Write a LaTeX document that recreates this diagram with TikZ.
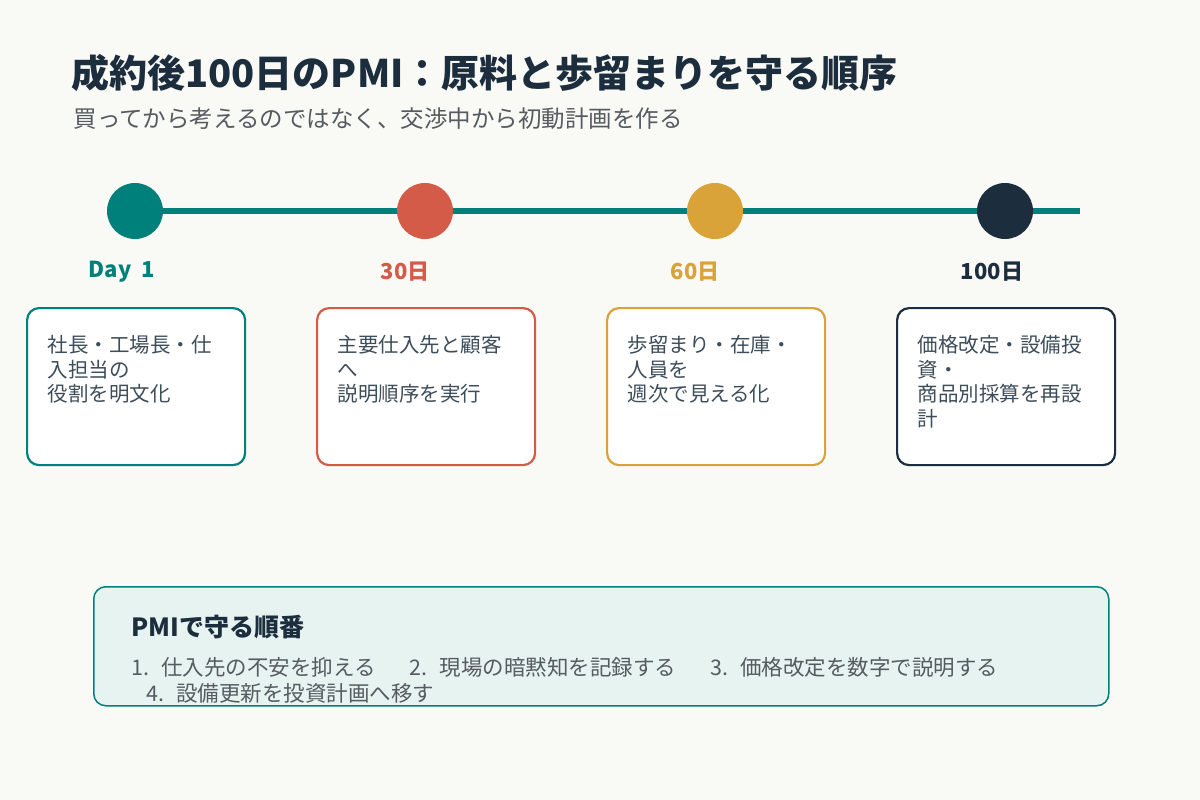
\documentclass[tikz,border=0pt]{standalone}
\usepackage{fontspec}
\setmainfont{Noto Sans CJK JP}
\usetikzlibrary{positioning}
\definecolor{bg}{HTML}{F9F9F5}
\definecolor{ink}{HTML}{1C2E3D}
\definecolor{gray}{HTML}{555B60}
\definecolor{teal}{HTML}{00807A}
\definecolor{coral}{HTML}{D35B47}
\definecolor{gold}{HTML}{D9A33A}
\definecolor{mint}{HTML}{E6F3F1}
\tikzset{
  dot/.style={circle, minimum size=56pt, inner sep=0pt},
  day/.style={font=\fontsize{22}{22}\selectfont\bfseries, anchor=center},
  card/.style={draw=#1, line width=2.2pt, fill=white, rounded corners=12pt,
    minimum width=218pt, minimum height=157pt, anchor=north west},
  cardtext/.style={font=\fontsize{20.5}{24.5}\selectfont, text=ink!85, align=left, anchor=north west}
}
\begin{document}
\begin{tikzpicture}[x=1pt,y=-1pt]
\fill[bg] (0,0) rectangle (1200,800);
\useasboundingbox (0,0) rectangle (1200,800);

\node[anchor=base west, text=ink, font=\fontsize{38}{38}\selectfont\bfseries] (title) at (68,88) {成約後100日のPMI：原料と歩留まりを守る順序};
\node[anchor=base west, text=gray, font=\fontsize{23.5}{24}\selectfont] (sub) at (70,127) {買ってから考えるのではなく、交渉中から初動計画を作る};

\coordinate (lend) at (1080,211);
\node[dot, fill=teal] (d1) at (135,211) {};
\node[dot, fill=coral] (d2) at (425,211) {};
\node[dot, fill=gold] (d3) at (715,211) {};
\node[dot, fill=ink] (d4) at (1005,211) {};
\draw[teal, line width=6pt] (d1) -- (d2);
\draw[teal, line width=6pt] (d2) -- (d3);
\draw[teal, line width=6pt] (d3) -- (d4);
\draw[teal, line width=6pt] (d4) -- (lend);

\node[day, text=teal] (l1) at (122,272) {Day\ \ 1};
\node[day, text=coral] (l2) at (405,272) {30日};
\node[day, text=gold] (l3) at (695,272) {60日};
\node[day, text=ink] (l4) at (992,272) {100日};

\node[card=teal] (c1) at (26,307) {};
\node[card=coral] (c2) at (316,307) {};
\node[card=gold] (c3) at (606,307) {};
\node[card=ink] (c4) at (896,307) {};
\node[cardtext] (t1) at (44,332) {社長・工場長・仕\\入担当の\\役割を明文化};
\node[cardtext] (t2) at (334,332) {主要仕入先と顧客\\へ\\説明順序を実行};
\node[cardtext] (t3) at (624,332) {歩留まり・在庫・\\人員を\\週次で見える化};
\node[cardtext] (t4) at (914,332) {価格改定・設備投\\資・\\商品別採算を再設\\計};

\node[draw=teal, line width=1.5pt, fill=mint, rounded corners=12pt, minimum width=1015pt,
  minimum height=119pt, anchor=north west] (box) at (93,586) {};
\node[anchor=base west, text=ink, font=\fontsize{25}{25}\selectfont\bfseries] (bt) at (128,636) {PMIで守る順番};
\node[anchor=base west, text=gray, font=\fontsize{21.5}{20}\selectfont] (b1) at (128,675)
  {1.\hspace{12pt}仕入先の不安を抑える\hspace{34pt}2.\hspace{12pt}現場の暗黙知を記録する\hspace{34pt}3.\hspace{12pt}価格改定を数字で説明する};
\node[anchor=base west, text=gray, font=\fontsize{21.5}{20}\selectfont] (b2) at (143,701) {4.\hspace{12pt}設備更新を投資計画へ移す};
\end{tikzpicture}
\end{document}
